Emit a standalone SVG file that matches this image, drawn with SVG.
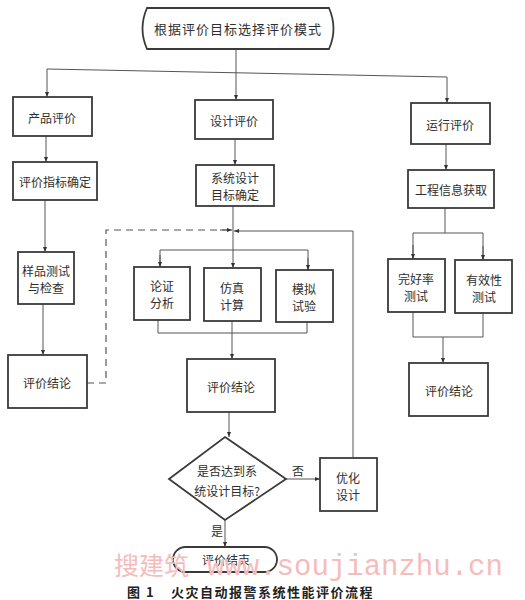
<svg xmlns="http://www.w3.org/2000/svg" width="525" height="600" viewBox="0 0 525 600">
<style>
.box{fill:#fff;stroke:#3a3a3a;stroke-width:1.8}
.ln{fill:none;stroke:#555;stroke-width:1}
.dash{fill:none;stroke:#555;stroke-width:1.2;stroke-dasharray:7,5}
text{font-family:"Noto Sans CJK SC","Noto Sans CJK JP",sans-serif;font-size:12px;fill:#2e2e2e;text-anchor:middle;dominant-baseline:central}
.t13{font-size:13px;letter-spacing:1px}
.cap{font-size:13px;font-weight:bold;letter-spacing:1.5px;fill:#222;text-anchor:start}
.wm{fill:#f5bcbc;dominant-baseline:auto;text-anchor:start}
</style>
<defs>
<marker id="ar" viewBox="0 0 10 10" refX="10" refY="5" markerWidth="5" markerHeight="5" orient="auto" markerUnits="userSpaceOnUse">
<path d="M0,1 L10,5 L0,9 Z" fill="#333"/>
</marker>
</defs>
<rect width="525" height="600" fill="#fff"/>

<g id="connectors">
<line class="ln" x1="236" y1="49" x2="236" y2="100" marker-end="url(#ar)"/>
<polyline class="ln" points="47,69 447,77"/>
<line class="ln" x1="47" y1="69" x2="47" y2="97" marker-end="url(#ar)"/>
<line class="ln" x1="447" y1="77" x2="447" y2="103" marker-end="url(#ar)"/>
<line class="ln" x1="46" y1="136" x2="46" y2="162" marker-end="url(#ar)"/>
<line class="ln" x1="45" y1="200" x2="45" y2="252" marker-end="url(#ar)"/>
<line class="ln" x1="43" y1="304" x2="43" y2="355" marker-end="url(#ar)"/>
<polyline class="dash" points="87,383 106,383 106,230 229,230"/>
<line class="ln" x1="220" y1="230" x2="232" y2="230" marker-end="url(#ar)"/>
<line class="ln" x1="235" y1="139" x2="235" y2="165" marker-end="url(#ar)"/>
<line class="ln" x1="233" y1="206" x2="233" y2="268" marker-end="url(#ar)"/>
<polyline class="ln" points="353,458 353,231 234,231" marker-end="url(#ar)"/>
<polyline class="ln" points="160,267 160,250 308,250 308,270"/>
<line class="ln" x1="160" y1="255" x2="160" y2="267" marker-end="url(#ar)"/>
<line class="ln" x1="308" y1="258" x2="308" y2="270" marker-end="url(#ar)"/>
<polyline class="ln" points="158,320 158,333 307,333 307,322"/>
<line class="ln" x1="232" y1="321" x2="232" y2="359" marker-end="url(#ar)"/>
<line class="ln" x1="229" y1="412" x2="229" y2="437" marker-end="url(#ar)"/>
<line class="ln" x1="286" y1="479" x2="320" y2="479" marker-end="url(#ar)"/>
<line class="ln" x1="225" y1="520" x2="225" y2="547" marker-end="url(#ar)"/>
<line class="ln" x1="446" y1="144" x2="446" y2="170" marker-end="url(#ar)"/>
<line class="ln" x1="445" y1="208" x2="445" y2="233"/>
<polyline class="ln" points="413,259 413,233 483,233 483,260"/>
<line class="ln" x1="413" y1="245" x2="413" y2="259" marker-end="url(#ar)"/>
<line class="ln" x1="483" y1="246" x2="483" y2="260" marker-end="url(#ar)"/>
<polyline class="ln" points="413,312 413,337 483,337 483,313"/>
<line class="ln" x1="443" y1="337" x2="443" y2="363" marker-end="url(#ar)"/>
<text x="298" y="470">否</text>
<text x="217" y="530">是</text>
</g>

<g id="start">
<path class="box" d="M147,8 L329,8 Q338,28.5 329,49 L147,49 Q138,28.5 147,8 Z"/>
<text class="t13" x="238" y="28">根据评价目标选择评价模式</text>
</g>

<g id="product-eval"><rect class="box" x="13" y="97" width="79" height="39"/><text x="52" y="117">产品评价</text></g>
<g id="index-confirm"><rect class="box" x="13" y="162" width="84" height="38"/><text x="55" y="181">评价指标确定</text></g>
<g id="sample-test"><rect class="box" x="18" y="252" width="56" height="52"/><text x="46" y="270">样品测试</text><text x="46" y="287">与检查</text></g>
<g id="conclusion-left"><rect class="box" x="8" y="355" width="79" height="53"/><text x="47" y="382">评价结论</text></g>

<g id="design-eval"><rect class="box" x="195" y="100" width="78" height="39"/><text x="234" y="120">设计评价</text></g>
<g id="design-target"><rect class="box" x="196" y="165" width="78" height="41"/><text x="235" y="177.5">系统设计</text><text x="235" y="194.5">目标确定</text></g>
<g id="analysis"><rect class="box" x="134" y="267" width="56" height="53"/><text x="162" y="285">论证</text><text x="162" y="302">分析</text></g>
<g id="simulation"><rect class="box" x="204" y="268" width="57" height="53"/><text x="232" y="287">仿真</text><text x="232" y="304">计算</text></g>
<g id="experiment"><rect class="box" x="276" y="270" width="57" height="52"/><text x="304" y="288">模拟</text><text x="304" y="305">试验</text></g>
<g id="conclusion-mid"><rect class="box" x="187" y="359" width="88" height="53"/><text x="231" y="386">评价结论</text></g>
<g id="decision"><polygon class="box" points="225,437 286,479 225,520 169,479"/><text x="227" y="470">是否达到系</text><text x="227" y="490">统设计目标?</text></g>
<g id="optimize"><rect class="box" x="320" y="458" width="57" height="53"/><text x="348" y="477">优化</text><text x="348" y="494">设计</text></g>
<g id="end"><rect class="box" x="173" y="547" width="104" height="25" rx="12.5"/><text x="226" y="559.5">评价结束</text></g>

<g id="operation-eval"><rect class="box" x="411" y="103" width="79" height="41"/><text x="450" y="124">运行评价</text></g>
<g id="info-get"><rect class="box" x="408" y="170" width="86" height="38"/><text x="451" y="189">工程信息获取</text></g>
<g id="intact-test"><rect class="box" x="388" y="259" width="57" height="53"/><text x="416" y="278">完好率</text><text x="416" y="295">测试</text></g>
<g id="effect-test"><rect class="box" x="455" y="260" width="57" height="53"/><text x="484" y="279">有效性</text><text x="484" y="296">测试</text></g>
<g id="conclusion-right"><rect class="box" x="409" y="363" width="79" height="53"/><text x="449" y="390">评价结论</text></g>

<text class="wm" x="114" y="575" style="font-size:25px">搜建筑</text>
<text class="wm" x="207" y="575" style="font-family:'Liberation Mono',monospace;font-size:29px">www.soujianzhu.cn</text>
<text class="cap" x="127" y="591">图 1</text>
<text class="cap" x="171" y="591">火灾自动报警系统性能评价流程</text>
</svg>
